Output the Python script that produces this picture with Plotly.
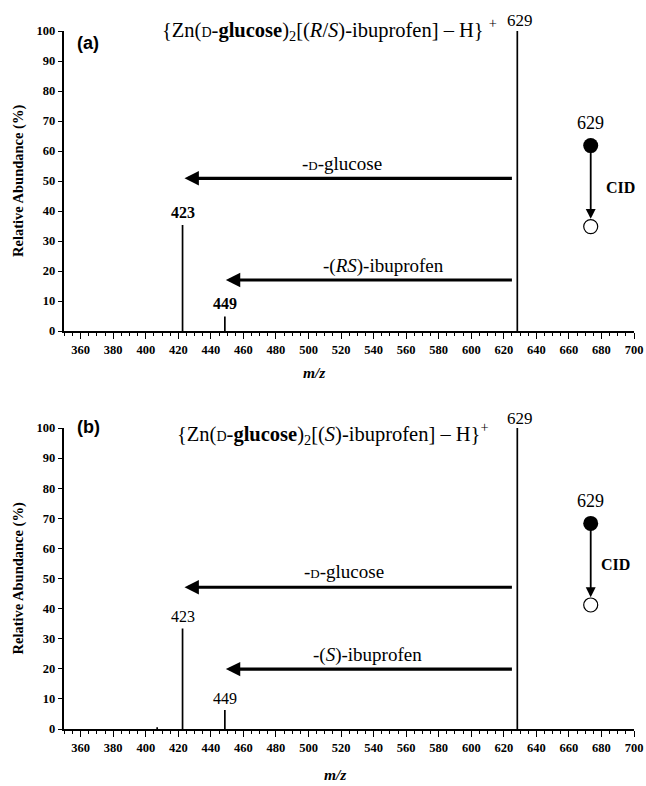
import plotly.graph_objects as go

# ---------------- data ----------------
mz_a = [422.6, 448.6, 628.3]
ab_a = [35.3, 4.8, 100.0]
lbl_a = ["423", "449", "629"]

mz_b = [407.0, 422.6, 448.6, 628.3]
ab_b = [0.6, 33.4, 6.3, 100.0]
lbl_b = ["", "423", "449", "629"]

x_ticks = list(range(360, 701, 20))
y_ticks = list(range(0, 101, 10))

SERIF = "Liberation Serif"
SANS = "Liberation Sans"
W, H = 646, 786

def px(xp):
    return xp / W

def py(yp):
    return 1 - yp / H

fig = go.Figure()

def sticks(mz, ab):
    xs, ys = [], []
    for m, a in zip(mz, ab):
        xs += [m, m, None]
        ys += [0, a, None]
    return xs, ys

for mz, ab, xa, ya in [(mz_a, ab_a, "x", "y"), (mz_b, ab_b, "x2", "y2")]:
    xs, ys = sticks(mz, ab)
    fig.add_trace(go.Scatter(x=xs, y=ys, mode="lines", xaxis=xa, yaxis=ya,
                             line=dict(color="black", width=1.7),
                             cliponaxis=False, showlegend=False, hoverinfo="skip"))

X_DOM = [px(64.4), px(634)]
YA = [py(331), py(31)]
YB = [py(729), py(428)]

xcommon = dict(range=[350, 700], tickmode="array", tickvals=x_ticks,
               ticks="outside", ticklen=6, tickwidth=1.3, tickcolor="black",
               showline=True, linecolor="black", linewidth=1.5,
               showgrid=False, zeroline=False, automargin=False,
               tickfont=dict(family=SERIF, size=12.5, color="black", weight="bold"),
               minor=dict(ticks="outside", ticklen=3.5, tickwidth=1.1, tickcolor="black",
                          dtick=5, tick0=350, showgrid=False),
               domain=X_DOM)
ycommon = dict(range=[0, 100], tickmode="array", tickvals=y_ticks,
               ticks="outside", ticklen=5, tickwidth=1.3, tickcolor="black",
               showline=True, linecolor="black", linewidth=1.5,
               showgrid=False, zeroline=False, automargin=False,
               tickfont=dict(family=SERIF, size=12.5, color="black", weight="bold"))

fig.update_layout(
    width=W, height=H,
    margin=dict(l=0, r=0, t=0, b=0),
    paper_bgcolor="white", plot_bgcolor="white",
    xaxis=dict(**xcommon, anchor="y"),
    yaxis=dict(**ycommon, domain=YA, anchor="x"),
    xaxis2=dict(**xcommon, anchor="y2"),
    yaxis2=dict(**ycommon, domain=YB, anchor="x2"),
)

ann = []
def A(**kw):
    base = dict(showarrow=False, xanchor="center", yanchor="middle",
                font=dict(family=SERIF, size=17, color="black"))
    f = kw.pop("font", {})
    base["font"].update(f)
    base.update(kw)
    ann.append(base)

# axis titles
for dom in (YA, YB):
    A(text="<b>Relative Abundance (%)</b>", xref="paper", yref="paper",
      x=px(18), y=(dom[0] + dom[1]) / 2, textangle=-90, font=dict(size=14.5))
A(text="<b><i>m/z</i></b>", xref="paper", yref="paper", x=px(314), y=py(372),
  font=dict(size=15.5))
A(text="<b><i>m/z</i></b>", xref="paper", yref="paper", x=px(335), y=py(774),
  font=dict(size=15.5))

# panel letters
A(text="<b>(a)</b>", xref="paper", yref="paper", x=px(75), y=py(43), xanchor="left",
  font=dict(family=SANS, size=18))
A(text="<b>(b)</b>", xref="paper", yref="paper", x=px(75), y=py(427), xanchor="left",
  font=dict(family=SANS, size=18))

# titles
SC = "<span style='font-size:14px'>D</span>"
A(text="{Zn(" + SC + "-<b>glucose</b>)<sub>2</sub>[(<i>R</i>/<i>S</i>)-ibuprofen] – H} <sup>+</sup>",
  xref="paper", yref="paper", x=px(329), y=py(30), font=dict(size=20.5))
A(text="{Zn(" + SC + "-<b>glucose</b>)<sub>2</sub>[(<i>S</i>)-ibuprofen] – H}<sup>+</sup>",
  xref="paper", yref="paper", x=px(333), y=py(433), font=dict(size=20.5))

# peak labels
def mz_to_px(m):
    return 64.4 + (m - 350) * (634 - 64.4) / 350

A(text="<b>423</b>", xref="x", yref="y", x=mz_a[0], y=39.4, font=dict(size=16))
A(text="<b>449</b>", xref="x", yref="y", x=mz_a[1], y=9.3, font=dict(size=16))
A(text="629", xref="paper", yref="paper", x=px(mz_to_px(mz_a[2]) + 3), y=py(20),
  font=dict(size=17))
A(text="423", xref="x2", yref="y2", x=mz_b[1], y=37.3, font=dict(size=16))
A(text="449", xref="x2", yref="y2", x=mz_b[2], y=10.3, font=dict(size=16))
A(text="629", xref="paper", yref="paper", x=px(mz_to_px(mz_b[3]) + 3), y=py(418),
  font=dict(size=17))

# loss arrows
SC2 = "<span style='font-size:13px'>D</span>"
def loss_arrow(xr, yr, x_tip, x_tail, yv, text, tx, ty):
    ann.append(dict(x=x_tip, y=yv, ax=x_tail, ay=yv, xref=xr, yref=yr,
                    axref=xr, ayref=yr, showarrow=True, arrowhead=2,
                    arrowsize=0.9, arrowwidth=3.2, arrowcolor="black", text=""))
    A(text=text, xref=xr, yref=yr, x=tx, y=ty, font=dict(size=19))

loss_arrow("x", "y", 423.8, 625.9, 50.9, "-" + SC2 + "-glucose", 520.6, 56.0)
loss_arrow("x", "y", 449.2, 625.9, 17.0, "-(<i>RS</i>)-ibuprofen", 546, 21.7)
loss_arrow("x2", "y2", 423.8, 625.9, 47.1, "-" + SC2 + "-glucose", 521.5, 52.3)
loss_arrow("x2", "y2", 449.2, 625.9, 19.9, "-(<i>S</i>)-ibuprofen", 536, 24.6)

# CID schematic
def cid(xr, yr, xc, y_full, y_open, y_lbl, x_cid, y_cid):
    fig.add_trace(go.Scatter(x=[xc], y=[y_full], mode="markers", xaxis=xr, yaxis=yr,
                             marker=dict(size=15, color="black"),
                             showlegend=False, hoverinfo="skip"))
    fig.add_trace(go.Scatter(x=[xc], y=[y_open], mode="markers", xaxis=xr, yaxis=yr,
                             marker=dict(size=14, color="white",
                                         line=dict(color="black", width=1.2)),
                             showlegend=False, hoverinfo="skip"))
    ann.append(dict(x=xc, y=y_open + 2.6, ax=xc, ay=y_full, xref=xr, yref=yr,
                    axref=xr, ayref=yr, showarrow=True, arrowhead=2,
                    arrowsize=1.1, arrowwidth=1.8, arrowcolor="black", text=""))
    A(text="629", xref=xr, yref=yr, x=xc, y=y_lbl, font=dict(size=18))
    A(text="<b>CID</b>", xref=xr, yref=yr, x=x_cid, y=y_cid, font=dict(size=16))

cid("x", "y", 673.4, 61.8, 34.8, 69.2, 691.9, 47.8)
cid("x2", "y2", 673.4, 68.3, 41.2, 75.6, 688.8, 54.8)

fig.update_layout(annotations=ann)
fig.write_html("out.html", config={"displayModeBar": False},
               post_script="document.body.style.margin='0px';")
